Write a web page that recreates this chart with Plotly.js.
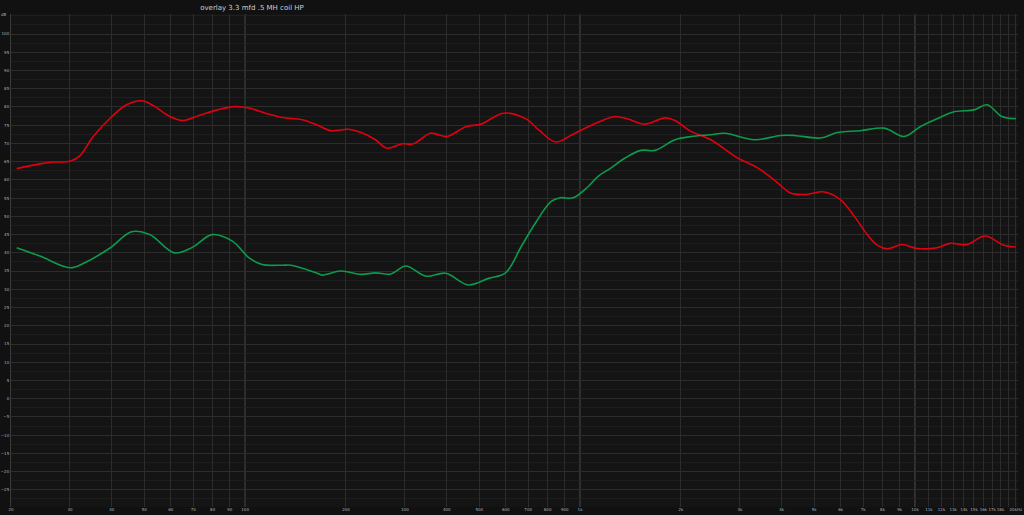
<!DOCTYPE html>
<html>
<head>
<meta charset="utf-8">
<script src="https://cdn.plot.ly/plotly-3.0.1.min.js"></script>
<style>
html,body{margin:0;padding:0;background:#111111;}
#chart{width:1024px;height:515px;}
</style>
</head>
<body>
<div id="chart"></div>
<script>
// Red trace (frequency Hz, level dB)
var redFreq = [20.8, 24.4, 26.7, 30, 32.1, 35.2, 40, 44.3, 49, 53.4, 59.1, 65.2, 73.5, 82.7, 93, 102.8, 115, 129.4, 148, 163.5, 181, 203, 222, 245, 265, 294, 318, 358, 400, 456, 506, 590, 688, 753, 846, 947, 1058, 1146, 1272, 1390, 1562, 1792, 1920, 2143, 2456, 2955, 3389, 3889, 4250, 4678, 5366, 5988, 6590, 7205, 7712, 8260, 9160, 10140, 11640, 12720, 14300, 16180, 18420, 20000];
var redDb   = [63.1, 64.4, 64.9, 65.1, 66.6, 71.9, 77.4, 80.6, 81.7, 80.3, 77.6, 76.3, 77.8, 79.2, 80.1, 79.7, 78.3, 77.1, 76.5, 75.1, 73.5, 73.9, 73.0, 71.0, 68.7, 69.9, 69.9, 72.8, 71.9, 74.6, 75.3, 78.3, 76.8, 73.7, 70.4, 72.4, 74.6, 76.0, 77.4, 76.7, 75.3, 77.0, 76.3, 73.3, 71.0, 66.0, 63.3, 59.2, 56.4, 56.0, 56.7, 54.6, 50.0, 45.0, 42.1, 41.1, 42.3, 41.2, 41.4, 42.6, 42.3, 44.6, 42.1, 41.6];
// Green trace
var greenFreq = [20.8, 24.4, 30, 33.2, 39.6, 45.8, 51.9, 61.5, 69.5, 79.7, 91.6, 102.8, 112.5, 129, 137, 163.5, 170, 193, 222, 245, 272, 302, 346, 397, 464, 533, 599, 668, 736, 820, 873, 954, 1058, 1132, 1238, 1362, 1520, 1674, 1920, 2143, 2456, 2704, 3320, 3970, 4368, 5220, 5860, 6866, 8095, 9283, 10360, 11640, 13080, 15000, 16400, 18170, 20000];
var greenDb   = [41.4, 39.1, 35.9, 37.3, 41.4, 45.8, 45.0, 40.0, 41.5, 45.0, 43.2, 38.6, 36.8, 36.6, 36.6, 34.5, 33.9, 35.0, 34.1, 34.5, 34.2, 36.4, 33.6, 34.4, 31.2, 33.0, 34.5, 41.8, 48.2, 54.1, 55.1, 55.1, 58.2, 61.0, 63.3, 66.0, 68.1, 68.1, 71.0, 71.9, 72.4, 72.8, 71.0, 72.2, 72.2, 71.5, 73.0, 73.5, 74.2, 71.9, 74.6, 76.8, 78.7, 79.2, 80.6, 77.4, 76.8];

var xTickVals = [20,30,40,50,60,70,80,90,100,200,300,400,500,600,700,800,900,1000,2000,3000,4000,5000,6000,7000,8000,9000,10000,11000,12000,13000,14000,15000,16000,17000,18000,19000,20000];
var xTickText = ["20","30","40","50","60","70","80","90","100","200","300","400","500","600","700","800","900","1k","2k","3k","4k","5k","6k","7k","8k","9k","10k","11k","12k","13k","14k","15k","16k","17k","18k","","20kHz"];
var yTickVals = [-25,-20,-15,-10,-5,0,5,10,15,20,25,30,35,40,45,50,55,60,65,70,75,80,85,90,95,100];
var decadeLines = [100, 1000, 10000];

var traces = [
  {x: redFreq, y: redDb, type: 'scatter', mode: 'lines', line: {color: '#e0000f', width: 1.6, shape: 'spline', smoothing: 1}, hoverinfo: 'skip'},
  {x: greenFreq, y: greenDb, type: 'scatter', mode: 'lines', line: {color: '#0d9a4c', width: 1.6, shape: 'spline', smoothing: 1}, hoverinfo: 'skip'}
];

var shapes = decadeLines.map(function(f){
  return {type: 'line', xref: 'x', yref: 'paper', x0: f, x1: f, y0: 0, y1: 1, line: {color: '#4a4a4a', width: 1.2}, layer: 'below'};
});

var layout = {
  width: 1024, height: 515,
  paper_bgcolor: '#111111',
  plot_bgcolor: '#141414',
  showlegend: false,
  margin: {l: 11, r: 6, t: 14, b: 8, pad: 0},
  title: {text: 'overlay 3.3 mfd .5 MH coil HP', x: 252/1024, xanchor: 'center', y: 0.99, yanchor: 'top', font: {family: 'DejaVu Sans, sans-serif', size: 7, color: '#d0d0d0'}},
  font: {family: 'DejaVu Sans, sans-serif', size: 4, color: '#b0b0b0'},
  xaxis: {
    type: 'log',
    range: [Math.log10(20), Math.log10(20300)],
    tickvals: xTickVals, ticktext: xTickText,
    tickangle: 0, ticklabelstandoff: -1,
    showgrid: true, gridcolor: '#2c2c2c', gridwidth: 1,
    zeroline: false, showline: false,
    ticks: '', tickfont: {size: 4, color: '#b0b0b0'},
    fixedrange: true
  },
  yaxis: {
    range: [-29.7, 105.5],
    tickvals: yTickVals,
    showgrid: true, gridcolor: '#2c2c2c', gridwidth: 1,
    minor: {dtick: 2.5, showgrid: true, gridcolor: '#1e1e1e', gridwidth: 1},
    zeroline: false, showline: true, linecolor: '#3a3a3a', linewidth: 1,
    ticks: '', tickfont: {size: 4, color: '#b0b0b0'},
    fixedrange: true
  },
  shapes: shapes,
  annotations: [{text: 'dB', xref: 'paper', yref: 'paper', x: 0, y: 1, xanchor: 'right', yanchor: 'middle', xshift: -2, showarrow: false, font: {size: 4, color: '#b0b0b0'}}]
};

Plotly.newPlot('chart', traces, layout, {displayModeBar: false, staticPlot: true});
</script>
</body>
</html>
